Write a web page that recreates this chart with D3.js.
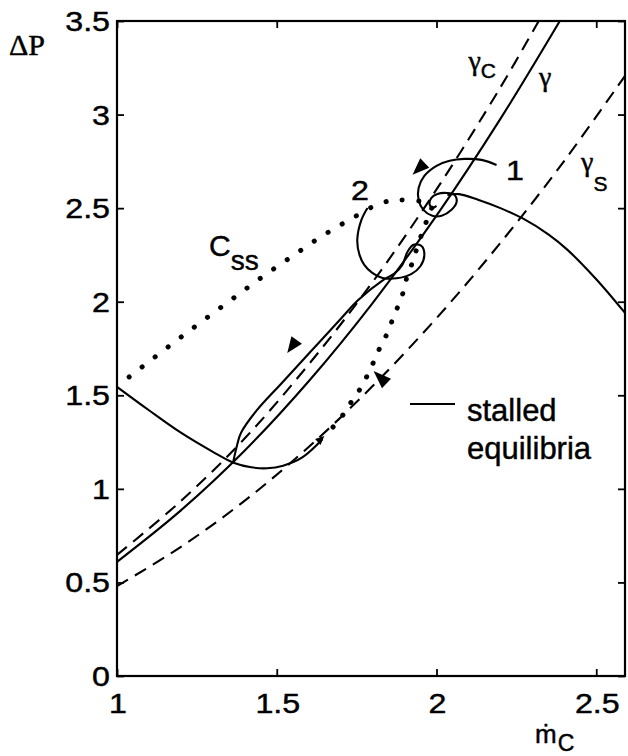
<!DOCTYPE html>
<html>
<head>
<meta charset="utf-8">
<script src="https://cdn.jsdelivr.net/npm/d3@7"></script>
<style>
  body { margin: 0; background: #fff; }
  svg { display: block; }
  text { stroke: #000; stroke-width: 0.45px; }
</style>
</head>
<body>
<svg id="chart" width="628" height="756"></svg>
<script>
// ---- axis ticks ----
const xTicks = [1, 1.5, 2, 2.5];
const xTickLabels = ["1", "1.5", "2", "2.5"];
const yTicks = [0, 0.5, 1, 1.5, 2, 2.5, 3, 3.5];
const yTickLabels = ["0", "0.5", "1", "1.5", "2", "2.5", "3", "3.5"];

// ---- throttle characteristics (mass flow, pressure rise) ----
const gammaC = [[1, 0.647], [1.2, 0.935], [1.4, 1.27], [1.6, 1.665], [1.8, 2.105], [2.0, 2.6], [2.2, 3.145], [2.32, 3.5]];
const gamma  = [[1, 0.61], [1.2, 0.885], [1.4, 1.205], [1.6, 1.575], [1.8, 1.993], [2.0, 2.46], [2.2, 2.977], [2.386, 3.5]];
const gammaS = [[1, 0.48], [1.2, 0.69], [1.4, 0.937], [1.6, 1.224], [1.8, 1.549], [2.0, 1.912], [2.2, 2.314], [2.4, 2.753], [2.59, 3.207]];

// ---- equilibrium branches ----
const stalledBranch = [[1, 1.545], [1.1, 1.42], [1.2, 1.30], [1.3, 1.198], [1.367, 1.138], [1.42, 1.115],
  [1.47, 1.11], [1.52, 1.124], [1.58, 1.168], [1.643, 1.265]];
const unstalledBranch = [[2.034, 2.571], [2.07, 2.575], [2.13, 2.545], [2.2, 2.50], [2.27, 2.445],
  [2.35, 2.36], [2.41, 2.277], [2.5, 2.12], [2.59, 1.94]];

// ---- trajectories ----
const trajectory1 = [[2.188, 2.731], [2.141, 2.758], [2.088, 2.763], [2.041, 2.753], [2.000, 2.726],
  [1.962, 2.672], [1.944, 2.608], [1.944, 2.544], [1.959, 2.491], [1.987, 2.459], [2.016, 2.459],
  [2.047, 2.491], [2.063, 2.533], [2.056, 2.571], [2.034, 2.581], [2.003, 2.576], [1.984, 2.555],
  [1.978, 2.523], [1.987, 2.501], [2.000, 2.512]];
const trajectory2 = [[1.784, 2.501], [1.765, 2.437], [1.752, 2.330], [1.759, 2.250], [1.774, 2.197],
  [1.799, 2.154], [1.831, 2.127], [1.875, 2.125], [1.922, 2.149], [1.950, 2.191], [1.962, 2.250],
  [1.953, 2.298], [1.928, 2.304], [1.909, 2.266], [1.893, 2.197], [1.868, 2.150], [1.835, 2.118],
  [1.755, 2.009], [1.697, 1.902], [1.602, 1.726], [1.516, 1.566], [1.438, 1.421],
  [1.388, 1.299], [1.376, 1.234], [1.363, 1.138]];

// ---- C_ss curves (dotted) ----
const cssUpper = [[1.038, 1.598], [1.119, 1.705], [1.201, 1.812], [1.285, 1.919], [1.370, 2.026],
  [1.455, 2.133], [1.545, 2.239], [1.633, 2.341], [1.727, 2.437], [1.828, 2.528], [1.890, 2.544], [1.96, 2.535]];
const cssLower = [[1.985, 2.50], [1.962, 2.40], [1.937, 2.277], [1.928, 2.223], [1.909, 2.143],
  [1.900, 2.074], [1.884, 1.994], [1.865, 1.919], [1.850, 1.844], [1.828, 1.774], [1.809, 1.700],
  [1.787, 1.619], [1.765, 1.545], [1.737, 1.475], [1.712, 1.406], [1.674, 1.326]];

// ---- direction arrows: tip location (data) ----
const arrowTips = [[1.925, 2.678], [1.533, 1.726], [1.803, 1.630], [1.649, 1.283]];
const arrowAngles = [136, 126, -136, -43];   // screen direction of each tip, degrees
const arrowSizes = [[17, 6.5], [16, 6.5], [18, 6.5], [9, 4]];

const svg = d3.select("#chart");
const x = d3.scaleLinear().domain([1, 2.59]).range([117, 625]);
const y = d3.scaleLinear().domain([0, 3.5]).range([676, 21]);

const SANS = "'Liberation Sans', Arial, Helvetica, sans-serif";
const SERIF = "'Liberation Serif', 'Times New Roman', serif";

const line = d3.line().x(d => x(d[0])).y(d => y(d[1])).curve(d3.curveCatmullRom.alpha(0.5));

// clip curves to the plot frame
svg.append("clipPath").attr("id", "plot-clip")
  .append("rect").attr("x", 117).attr("y", 21).attr("width", 508).attr("height", 655);
const plot = svg.append("g").attr("clip-path", "url(#plot-clip)");

function drawCurve(data, opts) {
  plot.append("path")
    .datum(data)
    .attr("d", line)
    .attr("fill", "none")
    .attr("stroke", "#000")
    .attr("stroke-width", opts.width || 2.1)
    .attr("stroke-dasharray", opts.dash || null)
    .attr("stroke-linecap", opts.cap || "butt")
    .attr("stroke-linejoin", "round");
}

drawCurve(gammaC, { dash: "13,8" });
drawCurve(gammaS, { dash: "13,8" });
drawCurve(gamma, {});
drawCurve(stalledBranch, {});
drawCurve(unstalledBranch, {});
drawCurve(trajectory1, {});
drawCurve(trajectory2, {});
drawCurve(cssUpper, { dash: "0.1,16.3", cap: "round", width: 5 });
drawCurve(cssLower, { dash: "0.1,15", cap: "round", width: 5 });

// arrowheads
arrowTips.forEach((t, i) => {
  const [len, hw] = arrowSizes[i];
  const a = arrowAngles[i] * Math.PI / 180;
  const tx = x(t[0]), ty = y(t[1]);
  const bx = tx - len * Math.cos(a), by = ty - len * Math.sin(a);
  const nx = -Math.sin(a) * hw, ny = Math.cos(a) * hw;
  plot.append("path")
    .attr("d", `M${tx},${ty}L${bx + nx},${by + ny}L${bx - nx},${by - ny}Z`)
    .attr("fill", "#000");
});

// ---- frame and ticks ----
svg.append("rect")
  .attr("x", 117).attr("y", 21).attr("width", 508).attr("height", 655)
  .attr("fill", "none").attr("stroke", "#000").attr("stroke-width", 2.2);

function tickStyle(g) {
  g.select(".domain").remove();
  g.selectAll("line").attr("stroke", "#000").attr("stroke-width", 1.8);
  g.selectAll("text").remove();
}
svg.append("g").attr("transform", "translate(0,676)")
  .call(d3.axisBottom(x).tickValues(xTicks).tickSize(-7).tickFormat("")).call(tickStyle);
svg.append("g").attr("transform", "translate(0,21)")
  .call(d3.axisTop(x).tickValues(xTicks).tickSize(-7).tickFormat("")).call(tickStyle);
svg.append("g").attr("transform", "translate(117,0)")
  .call(d3.axisLeft(y).tickValues(yTicks).tickSize(-7).tickFormat("")).call(tickStyle);
svg.append("g").attr("transform", "translate(625,0)")
  .call(d3.axisRight(y).tickValues(yTicks).tickSize(-7).tickFormat("")).call(tickStyle);

// stretched sans text helper
function label(px, py, str, size, anchor, sx, family) {
  const g = svg.append("g").attr("transform", `translate(${px},${py}) scale(${sx || 1},1)`);
  return g.append("text")
    .attr("x", 0).attr("y", 0)
    .attr("text-anchor", anchor || "start")
    .attr("font-family", family || SANS)
    .attr("font-size", size)
    .attr("fill", "#000")
    .text(str);
}

xTicks.forEach((v, i) => label(x(v) + 1, 713, xTickLabels[i], 28, "middle", 1.15));
yTicks.forEach((v, i) => label(110, y(v) + 10, yTickLabels[i], 28, "end", 1.15));

// axis titles
label(9, 55, "\u0394P", 30, "start", 1, SERIF);
const mt = svg.append("text").attr("x", 535).attr("y", 743)
  .attr("font-family", SANS).attr("fill", "#000");
mt.append("tspan").attr("font-size", 26).text("\u1E41");
mt.append("tspan").attr("font-size", 23).attr("dy", 8).attr("dx", 1).text("C");

// curve labels
function subLabel(px, py, main, sub, mainFamily, mainSize, subSize, dy) {
  const t = svg.append("text").attr("x", px).attr("y", py).attr("fill", "#000");
  t.append("tspan").attr("font-family", mainFamily).attr("font-size", mainSize).text(main);
  t.append("tspan").attr("font-family", SANS).attr("font-size", subSize).attr("dy", dy).text(sub);
  return t;
}
subLabel(x(2.1), y(3.236), "\u03B3", "C", SERIF, 28, 21, 8);
svg.append("text").attr("x", 539).attr("y", 86).attr("font-family", SERIF)
  .attr("font-size", 28).text("\u03B3");
subLabel(581, 171, "\u03B3", "S", SERIF, 28, 21, 20);
subLabel(209, 256, "C", "ss", SANS, 30, 28, 14);

label(506, 180, "1", 28, "start", 1.15);
label(351, 200, "2", 28, "start", 1.15);

// legend
svg.append("line").attr("x1", 410).attr("x2", 455).attr("y1", 404).attr("y2", 404)
  .attr("stroke", "#000").attr("stroke-width", 2);
label(467, 421, "stalled", 31, "start", 1);
label(467, 459, "equilibria", 31, "start", 1);
</script>
</body>
</html>
